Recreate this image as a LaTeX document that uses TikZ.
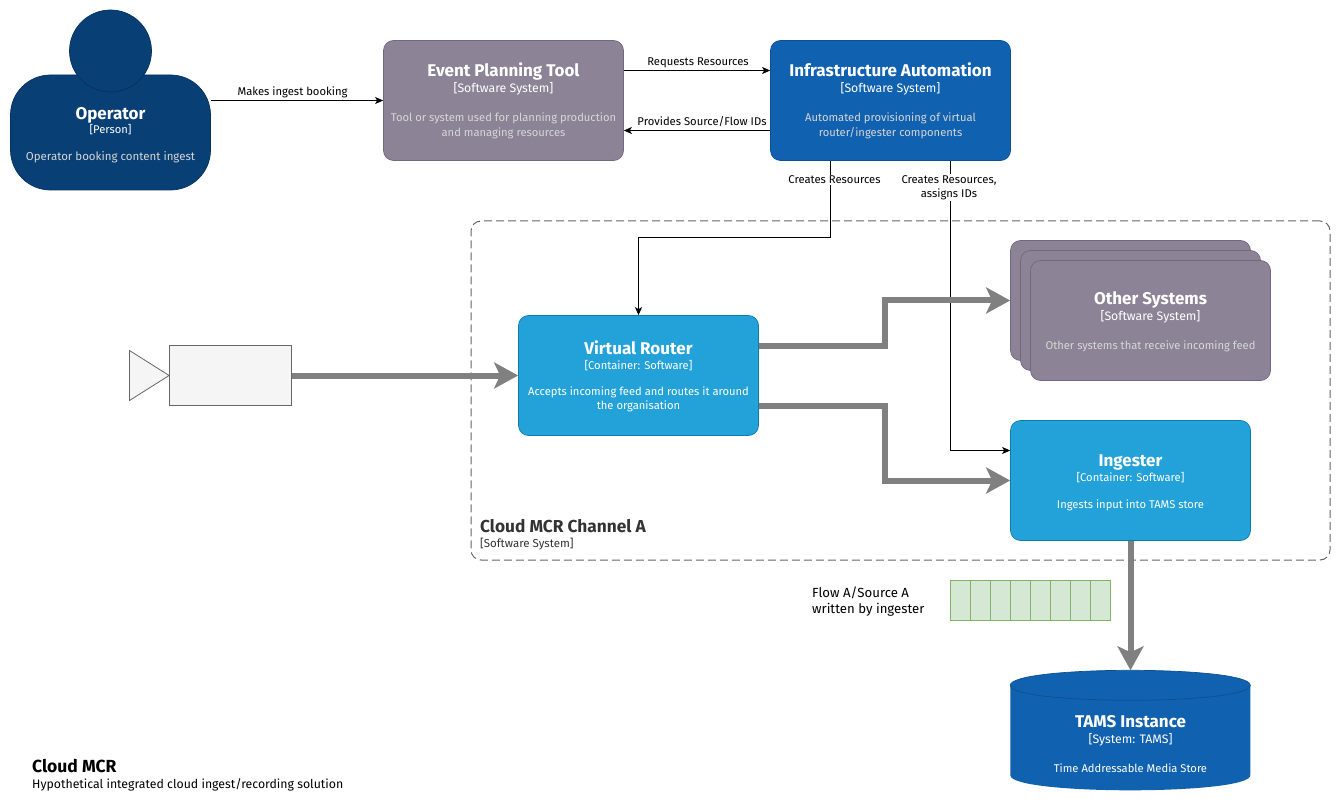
\documentclass[tikz,border=0pt]{standalone}
\usepackage{fontspec}
\setmainfont{Fira Sans}
\usetikzlibrary{arrows.meta,calc}
\definecolor{personfill}{HTML}{083F75}
\definecolor{personline}{HTML}{06315C}
\definecolor{sysfill}{HTML}{1061B0}
\definecolor{sysline}{HTML}{0D5091}
\definecolor{contfill}{HTML}{23A2D9}
\definecolor{contline}{HTML}{0E7DAD}
\definecolor{extfill}{HTML}{8C8496}
\definecolor{extline}{HTML}{736782}
\definecolor{flowgray}{HTML}{808080}
\definecolor{descgrey}{HTML}{D6D6D6}
\definecolor{cellline}{HTML}{82B366}
\definecolor{cellfill}{HTML}{D5E8D4}
\definecolor{camline}{HTML}{666666}
\definecolor{camfill}{HTML}{F5F5F5}
\newcommand{\fsz}[1]{\fontsize{#1}{#1}\selectfont}
% strut, kind size, title, kind, description, gap title-kind, gap kind-desc
\newcommand{\boxtxt}[7]{\rule{0pt}{#1pt}{\fontsize{17}{15}\selectfont\bfseries\color{white}#3}\\[#6pt]%
  {\fontsize{#2}{15}\selectfont\color{white}#4}\\[#7pt]%
  #5}
\tikzset{
  boxtext/.style={align=center,text=descgrey,font=\fontsize{11.2}{15}\selectfont},
  base/.style={boxtext,rounded corners=10pt,minimum width=240pt,minimum height=120pt,inner sep=0pt,line width=.7pt,draw},
  sysbox/.style={base,fill=sysfill,draw=sysline},
  contbox/.style={base,fill=contfill,draw=contline},
  extbox/.style={base,fill=extfill,draw=extline},
  thin link/.style={draw=black,line width=.9pt,-{Stealth[length=8pt,width=7pt,inset=2pt]}},
  flow/.style={draw=flowgray,line width=6pt,-{Stealth[length=24pt,width=26pt,inset=6pt]}},
  edgelabel/.style={font=\fontsize{11.25}{14}\selectfont,inner sep=1pt,align=center,text=black},
  whitelabel/.style={edgelabel,fill=white},
  cell/.style={draw=cellline,fill=cellfill,minimum width=20pt,minimum height=40pt,inner sep=0pt,line width=.8pt},
  camera/.style={draw=camline,fill=camfill,line width=.8pt},
}
\begin{document}
\begin{tikzpicture}[x=1pt,y=-1pt]
\useasboundingbox (0,0) rectangle (1341,802);
% group
\node[draw=camline,dash pattern=on 8pt off 4pt,rounded corners=10pt,minimum width=859pt,minimum height=339pt,inner sep=0pt,line width=1pt] (group) at (900.5,390.5) {};
\node[anchor=base west,inner sep=0pt,font=\fsz{17.3}\bfseries,text=black!80] (grouptitle) at (480,532.5) {Cloud MCR Channel A};
\node[anchor=base west,inner sep=0pt,font=\fsz{11.5},text=black!80] (groupkind) at (480,547) {[Software System]};
% person
\node[boxtext,draw=personline,fill=personfill,rounded corners=40pt,minimum width=200pt,minimum height=115pt,inner sep=0pt,line width=.7pt] (operator) at (110.5,132.5)
 {\boxtxt{18}{11.2}{Operator}{[Person]}{\fontsize{11.5}{15}\selectfont Operator booking content ingest}{-1}{12}};
\node[circle,draw=personline,fill=personfill,minimum size=82pt,inner sep=0pt,line width=.7pt] (head) at (110.5,51) {};
% systems
\node[extbox] (event) at (503.5,100.5) {\boxtxt{15}{12.3}{Event Planning Tool}{[Software System]}{Tool or system used for planning production\\and managing resources}{1}{14}};
\node[sysbox] (infra) at (890.5,100.5) {\boxtxt{15}{12.3}{Infrastructure Automation}{[Software System]}{Automated provisioning of virtual\\router/ingester components}{1}{14}};
\node[contbox] (router) at (638.5,375.5) {\boxtxt{15.5}{11.2}{Virtual Router}{[Container: Software]}{\color{white}Accepts incoming feed and routes it around\\[-1.8pt]\color{white}the organisation}{0}{11}};
\node[extbox] (other3) at (1130.5,300.5) {};
\node[extbox] (other2) at (1140.5,310.5) {};
\node[extbox] (other) at (1150.5,320.5) {\boxtxt{15}{12.3}{Other Systems}{[Software System]}{Other systems that receive incoming feed}{1}{14}};
\node[contbox] (ingester) at (1130.5,480.5) {\boxtxt{16}{11.2}{Ingester}{[Container: Software]}{\color{white}Ingests input into TAMS store}{0}{11.5}};
% TAMS cylinder
\node[minimum width=240pt,minimum height=120pt,inner sep=0pt] (tams) at (1130.5,730.5) {};
\fill[sysfill] (tams.north west) ++(0,15) .. controls +(0,-20) and +(0,-20) .. ++(240,0) -- ++(0,90) .. controls +(0,20) and +(0,20) .. ++(-240,0) -- cycle;
\draw[sysline,line width=.7pt] (tams.north west) ++(0,15) .. controls +(0,-20) and +(0,-20) .. ++(240,0) .. controls +(0,20) and +(0,20) .. ++(-240,0) -- cycle;
\node[boxtext,inner sep=0pt] (tamstext) at (1130.5,742.5) {\boxtxt{15}{12.3}{TAMS Instance}{[System: TAMS]}{\color{white}Time Addressable Media Store}{1}{14}};
% camera
\node[camera,minimum width=122pt,minimum height=60pt,inner sep=0pt] (camera) at (230.5,375.5) {};
\coordinate (lenstop) at (129.5,350.5);
\coordinate (lensbot) at (129.5,400.5);
\draw[camera] (lenstop) -- (camera.west) -- (lensbot) -- cycle;
% flow cells
\foreach \i in {0,...,7} {\node[cell] (cell\i) at (960.5+20*\i,600.5) {};}
\node[edgelabel,anchor=north west,align=left,font=\fontsize{13.2}{16}\selectfont,inner sep=0pt] (flowlabel) at (812,587) {Flow A/Source A\\written by ingester};
% thin connectors
\draw[thin link] (operator.east |- event.west) -- (event.west);
\draw[thin link] ([yshift=30pt]event.east) -- ([yshift=30pt]infra.west);
\draw[thin link] ([yshift=-30pt]infra.west) -- ([yshift=-30pt]event.east);
\coordinate (bendA) at (830.5,237.5);
\draw[thin link] ([xshift=-60pt]infra.south) -- (bendA) -- (bendA -| router.north) -- (router.north);
\draw[thin link] ([xshift=60pt]infra.south) |- ([yshift=30pt]ingester.west);
% thick flows
\draw[flow] (camera.east) -- (router.west);
\coordinate (splitA) at (884.5,345.5);
\coordinate (splitB) at (884.5,405.5);
\draw[flow] ([yshift=30pt]router.east) -- (splitA) -- (splitA |- other3.west) -- (other3.west);
\draw[flow] ([yshift=-30pt]router.east) -- (splitB) -- (splitB |- ingester.west) -- (ingester.west);
\draw[flow] (ingester.south) -- (tams.north);
% labels
\node[edgelabel] (l1) at (292.5,92) {Makes ingest booking};
\node[edgelabel] (l2) at (698,62.5) {Requests Resources};
\node[edgelabel] (l3) at (702,122) {Provides Source/Flow IDs};
\node[whitelabel] (l4) at (834.5,180) {Creates Resources};
\node[whitelabel] (l5) at (949,187.5) {Creates Resources,\\assigns IDs};
\node[anchor=base west,inner sep=0pt,font=\fsz{17.5}\bfseries] (title) at (32,772) {Cloud MCR};
\node[anchor=base west,inner sep=0pt,font=\fsz{12.3}] (subtitle) at (32,788) {Hypothetical integrated cloud ingest/recording solution};
\end{tikzpicture}
\end{document}
